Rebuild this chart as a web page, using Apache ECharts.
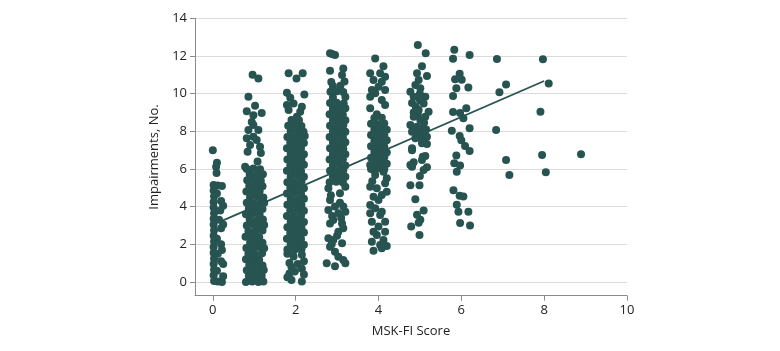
<!DOCTYPE html>
<html>
<head>
<meta charset="utf-8">
<script src="https://cdn.jsdelivr.net/npm/echarts@6/dist/echarts.min.js"></script>
<style>html,body{margin:0;padding:0;background:#fff}#c{width:780px;height:351px}</style>
</head>
<body>
<div id="c"></div>
<script>
// Tick labels
var xTicks = [0, 2, 4, 6, 8, 10];
var yTicks = [0, 2, 4, 6, 8, 10, 12, 14];

// Jittered points, one array per MSK-FI score: [score, impairments]
var score0 = [[0.0,7.0],[0.1,6.33],[0.08,6.12],[0.09,5.78],[0.02,5.15],[0.12,5.12],[0.22,5.1],[0.02,4.85],[0.1,4.7],[0.03,4.55],[0.02,4.25],[0.2,4.3],[0.25,4.05],[0.18,3.8],[0.02,3.95],[0.03,3.65],[0.02,3.35],[0.15,3.3],[0.25,3.05],[0.2,2.85],[0.02,3.05],[0.03,2.75],[0.02,2.45],[0.1,2.3],[0.03,2.15],[0.2,2.0],[0.02,1.85],[0.22,1.7],[0.02,1.55],[0.12,1.5],[0.03,1.25],[0.2,1.1],[0.02,0.95],[0.25,0.95],[0.03,0.65],[0.1,0.6],[0.02,0.35],[0.25,0.3],[0.03,0.05],[0.12,0.02],[0.22,0.0]];

var score1 = [[0.96,11.0],[1.1,10.8],[0.86,9.84],[1.02,9.35],[0.82,9.06],[1.18,8.97],[0.98,8.85],[0.94,8.5],[0.98,8.33],[0.86,8.07],[1.1,8.07],[0.98,7.71],[1.06,7.54],[0.82,7.63],[1.14,7.18],[0.9,7.27],[0.84,6.92],[1.16,6.85],[1.08,6.39],[0.78,6.12],
[0.8,0.0],[0.95,0.02],[1.1,0.0],[1.22,0.03],[0.87,0.31],[1.03,0.28],[1.18,0.33],[0.82,0.62],[0.97,0.58],[1.13,0.6],[1.23,0.64],[0.88,0.9],[1.05,0.93],[1.2,0.88],[0.8,1.2],[0.96,1.22],[1.12,1.18],[0.86,1.5],[1.02,1.47],[1.19,1.52],[0.81,1.8],[0.98,1.78],[1.14,1.83],[1.24,1.79],[0.9,2.1],[1.06,2.12],[1.2,2.08],[0.79,2.4],[0.95,2.42],[1.12,2.38],[0.86,2.7],[1.03,2.68],[1.2,2.73],[0.82,3.0],[0.99,3.02],[1.15,2.98],[1.24,3.03],[0.89,3.3],[1.06,3.28],[1.21,3.32],[0.8,3.6],[0.96,3.62],[1.13,3.58],[0.87,3.9],[1.04,3.92],[1.2,3.88],[0.82,4.2],[0.99,4.18],[1.16,4.22],[1.24,4.2],[0.9,4.5],[1.07,4.52],[1.22,4.48],[0.81,4.8],[0.97,4.78],[1.13,4.82],[0.88,5.1],[1.05,5.12],[1.2,5.08],[0.83,5.4],[0.99,5.42],[1.16,5.38],[0.89,5.7],[1.06,5.68],[1.21,5.72],[0.82,6.0],[0.98,6.02],[1.14,5.98]];

var score2 = [[1.83,11.08],[2.02,10.81],[2.17,11.08],[1.79,10.05],[2.21,9.96],[1.87,9.78],[1.95,9.48],[1.79,9.4],[2.15,9.3],[1.83,9.13],[2.11,9.04],[2.03,8.77],[2.22,7.75],
[1.8,1.5],[1.95,1.35],[2.15,1.45],[1.85,1.0],[2.05,0.95],[2.2,1.1],[1.9,0.8],[2.15,0.7],[1.85,0.45],[1.98,0.55],[2.2,0.4],[1.8,0.25],[1.9,0.1],[2.15,0.02],
[1.8,1.72],[1.97,1.7],[2.14,1.74],[1.88,2.0],[2.05,2.02],[2.2,1.98],[1.79,2.3],[1.96,2.32],[2.13,2.28],[1.87,2.6],[2.04,2.58],[2.2,2.62],[1.8,2.9],[1.97,2.92],[2.14,2.88],[1.88,3.2],[2.05,3.22],[2.2,3.18],[1.79,3.5],[1.96,3.48],[2.13,3.52],[1.87,3.8],[2.04,3.82],[2.2,3.78],[1.8,4.1],[1.97,4.12],[2.14,4.08],[1.88,4.4],[2.05,4.38],[2.2,4.42],[1.79,4.7],[1.96,4.72],[2.13,4.68],[1.87,5.0],[2.04,5.02],[2.2,4.98],[1.8,5.3],[1.97,5.28],[2.14,5.32],[1.88,5.6],[2.05,5.62],[2.2,5.58],[1.79,5.9],[1.96,5.92],[2.13,5.88],[1.87,6.2],[2.04,6.18],[2.2,6.22],[1.8,6.5],[1.97,6.52],[2.14,6.48],[1.88,6.8],[2.05,6.82],[2.2,6.78],[1.79,7.1],[1.96,7.12],[2.13,7.08],[1.87,7.4],[2.04,7.42],[2.2,7.38],[1.8,7.7],[1.97,7.68],[2.14,7.72],[1.88,8.0],[2.05,8.02],[2.19,7.98],[1.82,8.3],[1.98,8.32],[2.14,8.28],[1.9,8.6],[2.08,8.58]];

var score3 = [[2.83,12.14],[2.95,12.05],[2.88,12.1],[2.83,11.22],[3.15,11.34],[3.12,10.99],
[2.79,4.97],[3.2,5.06],[3.07,4.71],[2.85,4.6],[2.83,4.35],[3.07,4.2],[2.95,4.0],[3.15,4.0],[2.79,3.82],[3.2,3.73],[3.03,3.65],[2.88,3.5],[3.1,3.4],[2.91,3.29],[2.83,3.11],[3.12,3.11],[3.15,2.85],[3.03,2.67],[3.0,2.45],[2.79,2.32],[2.91,2.23],[3.12,2.05],[2.87,2.0],[2.83,1.87],[2.95,1.61],[3.03,1.34],[3.15,1.17],[2.75,0.99],[2.95,0.83],[3.2,0.99],
[2.82,5.3],[2.98,5.32],[3.14,5.28],[2.9,5.6],[3.06,5.62],[3.2,5.58],[2.83,5.9],[2.99,5.88],[3.15,5.92],[2.9,6.2],[3.06,6.22],[3.2,6.18],[2.82,6.5],[2.98,6.48],[3.14,6.52],[2.9,6.8],[3.06,6.82],[3.2,6.78],[2.83,7.1],[2.99,7.12],[3.15,7.08],[2.9,7.4],[3.06,7.38],[3.2,7.42],[2.82,7.7],[2.98,7.72],[3.14,7.68],[2.9,8.0],[3.06,8.02],[3.2,7.98],[2.83,8.3],[2.99,8.28],[3.15,8.32],[2.9,8.6],[3.06,8.62],[3.2,8.58],[2.82,8.9],[2.98,8.92],[3.14,8.88],[2.9,9.2],[3.06,9.18],[3.2,9.22],[2.83,9.5],[2.99,9.52],[3.16,9.48],[2.9,9.8],[3.2,9.82],[2.84,10.1],[3.0,10.12],[3.15,10.08],[2.9,10.4],[3.08,10.42],[3.18,10.65],[2.86,10.62]];

var score4 = [[3.92,11.87],[4.12,11.46],[3.8,11.08],[4.04,11.08],[4.16,10.9],[3.88,10.72],[4.08,10.63],[4.0,10.37],[3.84,10.19],[4.16,10.19],[3.92,10.02],[3.8,9.84],[4.08,9.66],[4.16,9.4],[3.8,9.22],
[3.82,6.0],[3.98,6.02],[4.14,5.98],[3.9,6.3],[4.06,6.32],[4.2,6.28],[3.82,6.6],[3.98,6.58],[4.14,6.62],[3.9,6.9],[4.06,6.92],[4.2,6.88],[3.82,7.2],[3.98,7.22],[4.14,7.18],[3.9,7.5],[4.06,7.48],[4.2,7.52],[3.82,7.8],[3.98,7.82],[4.14,7.78],[3.9,8.1],[4.06,8.12],[4.2,8.08],[3.82,8.4],[3.98,8.38],[4.14,8.42],[3.9,8.7],[4.08,8.72],[3.96,8.9],
[3.8,6.21],[4.08,6.12],[3.88,5.94],[4.12,5.85],[3.92,5.68],[4.2,5.5],[3.85,5.35],[3.8,5.06],[3.96,4.97],[4.16,5.24],[4.2,4.79],[4.08,4.62],[3.88,4.53],[4.0,4.35],[3.8,4.09],[3.92,3.91],[4.08,3.73],[3.8,3.65],[4.04,3.56],[3.84,3.2],[4.16,3.2],[4.0,2.94],[3.88,2.67],[4.16,2.67],[3.96,2.49],[4.12,2.23],[3.84,2.14],[4.04,1.96],[4.2,1.91],[3.88,1.66],[4.08,1.79]];

var score5 = [[4.95,12.58],[5.14,12.14],[5.05,11.46],[4.93,11.08],[5.17,10.93],[4.97,10.72],[4.89,10.46],[5.01,10.28],[4.77,10.1],[5.0,10.0],[4.85,9.84],[5.13,9.84],[5.0,9.65],[4.81,9.5],[5.09,9.48],[4.9,9.3],[4.97,9.13],[5.21,9.04],[4.85,9.0],[4.95,8.9],[4.85,8.77],[5.13,8.77],[5.01,8.6],[5.1,8.45],[4.77,8.33],[4.93,8.24],[5.05,8.16],[5.15,8.1],[4.9,8.0],[4.81,7.98],[5.01,7.89],[4.95,7.8],[5.17,7.71],[4.89,7.63],[5.05,7.55],[5.05,7.36],[5.17,7.32],[4.81,7.1],[4.81,7.0],[5.07,6.65],[5.13,6.69],[5.05,6.48],[4.85,6.35],[4.81,6.12],[4.77,6.21],[5.17,6.09],[5.09,5.94],[5.0,5.63],[4.77,5.13],[4.99,5.13],[4.89,4.39],[5.09,3.8],[4.93,3.57],[5.01,3.3],[4.97,3.15],[4.79,2.94],[4.99,2.49]];

var score6 = [[5.83,12.33],[6.2,12.05],[5.8,11.85],[5.96,11.06],[5.85,10.76],[6.01,10.74],[5.88,10.28],[6.17,10.33],[5.8,9.88],[6.12,9.22],[5.8,9.02],[5.97,8.97],[6.05,8.69],[6.2,8.16],[5.77,8.03],[5.96,7.75],[6.0,7.52],[6.09,7.22],[6.2,6.96],[5.88,6.72],[5.83,6.3],[5.97,6.18],[5.89,5.85],[5.81,4.87],[5.96,4.58],[6.05,4.54],[5.89,4.1],[5.93,3.73],[6.17,3.73],[5.97,3.13],[6.21,3.0]];

var score7 = [[6.86,11.84],[6.92,10.07],[7.08,10.49],[6.84,8.07],[7.08,6.47],[7.16,5.68]];
var score8 = [[7.97,11.82],[8.11,10.54],[7.91,9.04],[7.95,6.74],[8.04,5.82]];
var score9 = [[8.89,6.78]];

// Fitted regression line end points
var fitLine = [[0.22, 3.24], [8.0, 10.67]];

var points = [].concat(score0, score1, score2, score3, score4, score5, score6, score7, score8, score9);

var dotColor = '#275451';
var font = 'Open Sans';
var chart = echarts.init(document.getElementById('c'), null, {renderer: 'canvas'});
chart.setOption({
  animation: false,
  backgroundColor: '#ffffff',
  grid: {left: 195, right: 153, top: 18.3, bottom: 55.3, containLabel: false},
  xAxis: {
    type: 'value', min: -0.43, max: 10,
    name: 'MSK-FI Score', nameLocation: 'middle', nameGap: 29,
    nameTextStyle: {fontFamily: font, fontSize: 13, color: '#222'},
    axisLine: {show: true, onZero: false, lineStyle: {color: '#8a8a8a', width: 1}},
    axisTick: {show: true, length: 5, customValues: xTicks, lineStyle: {color: '#8a8a8a'}},
    axisLabel: {customValues: xTicks, margin: 8, fontFamily: font, fontSize: 13, color: '#222'},
    splitLine: {show: false}
  },
  yAxis: {
    type: 'value', min: -0.73, max: 14,
    name: 'Impairments, No.', nameLocation: 'middle', nameGap: 26,
    nameTextStyle: {fontFamily: font, fontSize: 13, color: '#222'},
    axisLine: {show: true, onZero: false, lineStyle: {color: '#8a8a8a', width: 1}},
    axisTick: {show: true, length: 5, customValues: yTicks, lineStyle: {color: '#8a8a8a'}},
    axisLabel: {customValues: yTicks, margin: 8, fontFamily: font, fontSize: 13, color: '#222'},
    splitLine: {show: true, lineStyle: {color: '#dcdcdc', width: 1, type: 'solid'}}
  },
  series: [
    {
      type: 'line', data: fitLine, zlevel: 1, z: 1, symbol: 'none', silent: true,
      lineStyle: {color: dotColor, width: 1.8}
    },
    {
      type: 'scatter', data: points, zlevel: 1, z: 3,
      symbol: 'circle', symbolSize: 8,
      itemStyle: {color: dotColor, opacity: 1}
    }
  ]
});
</script>
</body>
</html>
